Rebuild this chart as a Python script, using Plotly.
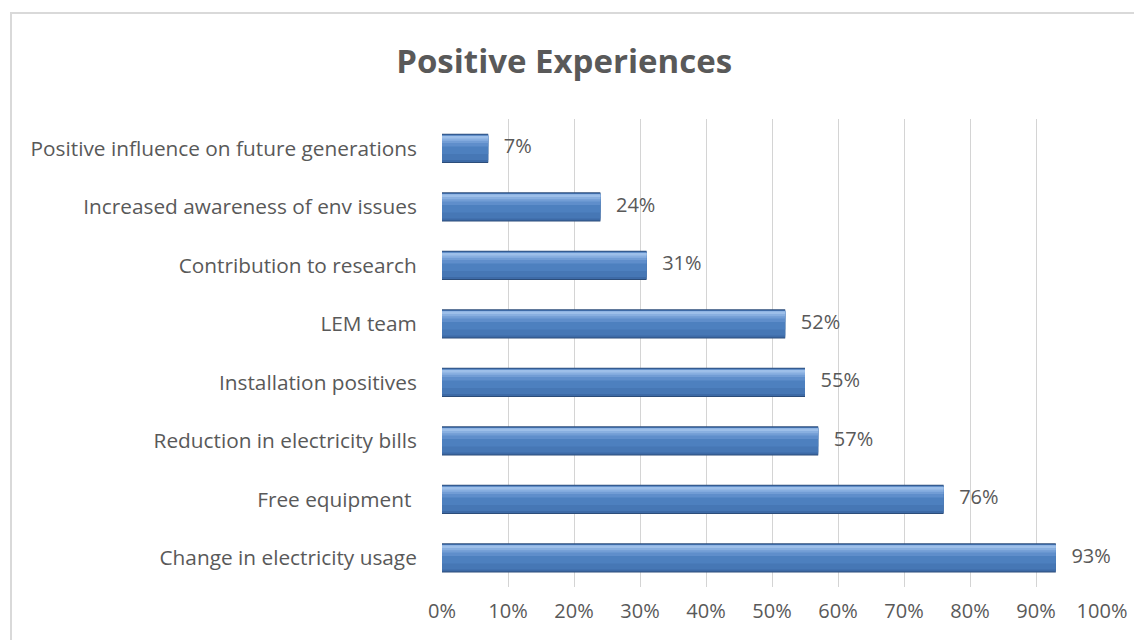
import plotly.graph_objects as go

categories = [
    "Change in electricity usage",
    "Free equipment ",
    "Reduction in electricity bills",
    "Installation positives",
    "LEM team",
    "Contribution to research",
    "Increased awareness of env issues",
    "Positive influence on future generations",
]
values = [93, 76, 57, 55, 52, 31, 24, 7]
tick_vals = [0, 10, 20, 30, 40, 50, 60, 70, 80, 90, 100]
tick_text = [f"{v}%" for v in tick_vals]

FONT = "Open Sans"
GREY = "#595959"

fig = go.Figure()

# layered bars to mimic the bevelled / gradient bar look
layers = [
    (-0.25, 0.50, "#2c4d7a"),
    (-0.235, 0.47, "#3d6aa6"),
    (-0.20, 0.40, "#4677b5"),
    (-0.10, 0.32, "#4d80bf"),
    (0.03, 0.185, "#5f8ecb"),
    (0.09, 0.125, "#729dd5"),
    (0.13, 0.085, "#88afe0"),
    (0.165, 0.045, "#9dbfe9"),
]
for off, w, col in layers:
    fig.add_trace(go.Bar(
        y=categories, x=values, orientation="h",
        offset=off, width=w,
        marker=dict(color=col, line=dict(width=0)),
        hoverinfo="skip", showlegend=False,
    ))

fig.add_trace(go.Scatter(
    y=categories, x=values, mode="text",
    text=[f"{v}%" for v in values],
    texttemplate="   %{text}",
    textposition="middle right",
    textfont=dict(family=FONT, size=20, color=GREY),
    showlegend=False, hoverinfo="skip", cliponaxis=False,
))

L, R, T, B = 434, 48, 111, 61
H = 640 - T - B
W = 1142 - L - R

fig.update_layout(
    width=1142, height=640,
    barmode="overlay",
    paper_bgcolor="white", plot_bgcolor="white",
    margin=dict(l=L, r=R, t=T, b=B),
    title=dict(text="<b>Positive Experiences</b>", x=0.487, xanchor="center",
               y=0.917, yanchor="middle",
               font=dict(family=FONT, size=33, color=GREY)),
    xaxis=dict(range=[0, 100], tickvals=tick_vals, ticktext=tick_text,
               showgrid=True, gridcolor="#d4d4d4", gridwidth=1,
               zeroline=False, showline=False,
               ticks="outside", ticklen=6, tickcolor="rgba(0,0,0,0)",
               tickfont=dict(family=FONT, size=20, color=GREY),
               fixedrange=True),
    yaxis=dict(type="category", categoryorder="array", categoryarray=categories,
               range=[-0.5, 7.5], showgrid=False, zeroline=False, showline=False,
               ticks="outside", ticklen=20, tickcolor="rgba(0,0,0,0)",
               tickfont=dict(family=FONT, size=20.8, color=GREY)),
    shapes=[dict(type="rect", xref="paper", yref="paper",
                 x0=(3 - L) / W, x1=1.2, y0=-0.3, y1=(640 - B - 5) / H,
                 line=dict(color="#d9d9d9", width=2), fillcolor="rgba(0,0,0,0)",
                 layer="below")],
)

fig.write_html("out.html")
